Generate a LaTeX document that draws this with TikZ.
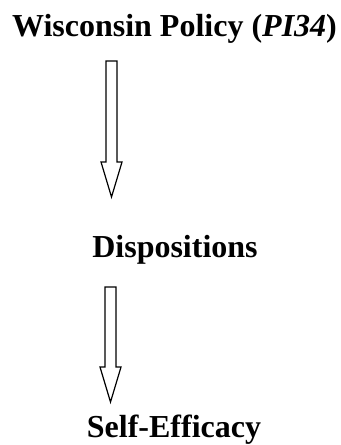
\documentclass[tikz,border=0pt]{standalone}
\usepackage{fontspec}
\setmainfont{Liberation Serif}
\usetikzlibrary{calc}
\tikzset{
  label/.style={font=\fontsize{32bp}{38bp}\selectfont\bfseries, inner sep=0pt, anchor=base},
  blockarrow/.style={draw=black, line width=1.2bp, fill=white, line join=miter}
}
% hollow downward arrow from #1 (top of shaft) to #2 (tip)
\newcommand{\downarrowbox}[2]{%
  \draw[blockarrow] ($(#1)+(-5.5,0)$) -- ($(#1)+(5.5,0)$) -- ($(#2)+(5.5,-35)$)
    -- ($(#2)+(10.5,-35)$) -- (#2) -- ($(#2)+(-10.5,-35)$) -- ($(#2)+(-5.5,-35)$) -- cycle;}

\begin{document}
\begin{tikzpicture}[x=1bp, y=-1bp]
  \useasboundingbox (0,0) rectangle (340,445);
  \node[label] (policy) at (174.5,37) {Wisconsin Policy (\textit{PI34})};
  \node[label] (disp) at (175,257) {Dispositions};
  \node[label] (efficacy) at (174,437) {Self-Efficacy};
  \coordinate (a1top) at (111.5,61);
  \coordinate (a1tip) at (111.5,197);
  \coordinate (a2top) at (110.5,287);
  \coordinate (a2tip) at (110.5,402);
  \downarrowbox{a1top}{a1tip}
  \downarrowbox{a2top}{a2tip}
\end{tikzpicture}
\end{document}
